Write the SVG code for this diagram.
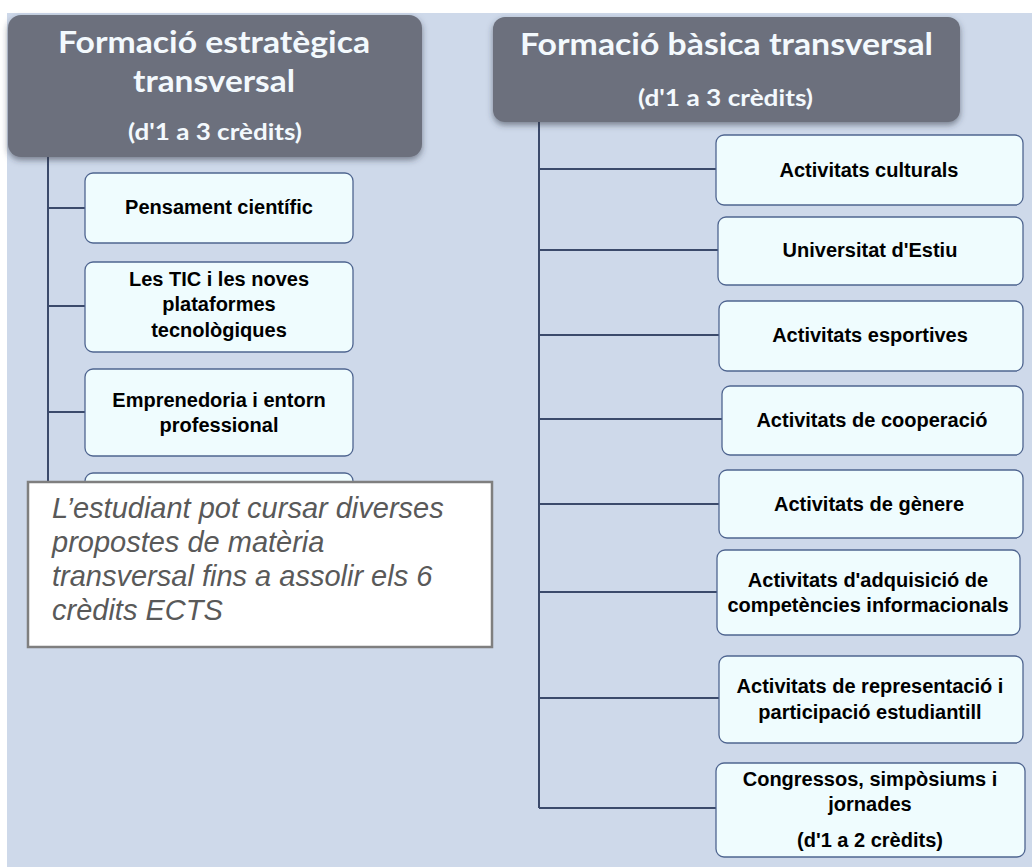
<svg xmlns="http://www.w3.org/2000/svg" width="1032" height="867" viewBox="0 0 1032 867">
<defs>
<filter id="sh" x="-10%" y="-10%" width="120%" height="130%">
<feDropShadow dx="0" dy="3" stdDeviation="3" flood-color="#2e3442" flood-opacity="0.55"/>
</filter>
<style>
.hdr{fill:#6c707d;filter:url(#sh)}
.ht{font-family:Lato,"Open Sans",sans-serif;font-weight:bold;fill:#f3f9fd;text-anchor:middle}
.box{fill:#effcfe;stroke:#4f6590;stroke-width:1.3}
.bt{font-family:"Liberation Sans",Arial,sans-serif;font-weight:bold;font-size:20px;fill:#000;text-anchor:middle}
.ln{stroke:#3b4a6b;stroke-width:2;fill:none}
.note{fill:#fff;stroke:#7f7f7f;stroke-width:2.5}
.nt{font-family:"Liberation Sans",Arial,sans-serif;font-style:italic;font-size:29px;fill:#595959}
</style>
</defs>
<rect x="7" y="13" width="1025" height="854" fill="#ced9ea"/>

<g id="connectors">
<path class="ln" d="M48 157 V482 M48 208 H85 M48 306 H85 M48 412 H85"/>
<path class="ln" d="M539 122 V808 M539 169 H716 M539 250 H718 M539 335 H719 M539 419 H722 M539 504 H719 M539 592 H717 M539 698 H719 M539 808 H716"/>
</g>

<g id="hdr-left">
<rect class="hdr" x="8" y="15" width="414" height="142" rx="13"/>
<text class="ht" x="214" y="53" font-size="30" textLength="312" lengthAdjust="spacingAndGlyphs">Formació estratègica</text>
<text class="ht" x="214" y="92" font-size="30" textLength="162" lengthAdjust="spacingAndGlyphs">transversal</text>
<text class="ht" x="215" y="140" font-size="22" textLength="174" lengthAdjust="spacingAndGlyphs">(d'1 a 3 crèdits)</text>
</g>

<g id="hdr-right">
<rect class="hdr" x="493" y="17" width="467" height="105" rx="12"/>
<text class="ht" x="726.5" y="55" font-size="30" textLength="413" lengthAdjust="spacingAndGlyphs">Formació bàsica transversal</text>
<text class="ht" x="725.5" y="106" font-size="22" textLength="175" lengthAdjust="spacingAndGlyphs">(d'1 a 3 crèdits)</text>
</g>

<g id="l1"><rect class="box" x="85" y="173" width="268" height="70" rx="8"/>
<text class="bt" x="219" y="214">Pensament científic</text></g>
<g id="l2"><rect class="box" x="85" y="262" width="268" height="90" rx="8"/>
<text class="bt" x="219" y="286">Les TIC i les noves</text>
<text class="bt" x="219" y="311">plataformes</text>
<text class="bt" x="219" y="337">tecnològiques</text></g>
<g id="l3"><rect class="box" x="85" y="369" width="268" height="87" rx="8"/>
<text class="bt" x="219" y="407">Emprenedoria i entorn</text>
<text class="bt" x="219" y="432">professional</text></g>
<g id="l4"><rect class="box" x="85" y="473" width="268" height="80" rx="8"/></g>

<g id="note">
<rect class="note" x="28" y="482" width="464" height="165"/>
<text class="nt" x="52" y="518">L’estudiant pot cursar diverses</text>
<text class="nt" x="52" y="552">propostes de matèria</text>
<text class="nt" x="52" y="586">transversal fins a assolir els 6</text>
<text class="nt" x="52" y="620">crèdits ECTS</text>
</g>

<g id="r1"><rect class="box" x="716" y="135" width="307" height="70" rx="8"/>
<text class="bt" x="869" y="177">Activitats culturals</text></g>
<g id="r2"><rect class="box" x="718" y="217" width="305" height="68" rx="8"/>
<text class="bt" x="870" y="257">Universitat d'Estiu</text></g>
<g id="r3"><rect class="box" x="719" y="301" width="304" height="70" rx="8"/>
<text class="bt" x="870" y="342">Activitats esportives</text></g>
<g id="r4"><rect class="box" x="722" y="386" width="301" height="69" rx="8"/>
<text class="bt" x="872" y="427">Activitats de cooperació</text></g>
<g id="r5"><rect class="box" x="719" y="470" width="304" height="68" rx="8"/>
<text class="bt" x="869" y="511">Activitats de gènere</text></g>
<g id="r6"><rect class="box" x="717" y="550" width="303" height="85" rx="8"/>
<text class="bt" x="868" y="587">Activitats d'adquisició de</text>
<text class="bt" x="868" y="612">competències informacionals</text></g>
<g id="r7"><rect class="box" x="719" y="656" width="304" height="87" rx="8"/>
<text class="bt" x="870" y="693">Activitats de representació i</text>
<text class="bt" x="870" y="719">participació estudiantill</text></g>
<g id="r8"><rect class="box" x="716" y="763" width="309" height="94" rx="8"/>
<text class="bt" x="870" y="786">Congressos, simpòsiums i</text>
<text class="bt" x="870" y="811">jornades</text>
<text class="bt" x="870" y="847">(d'1 a 2 crèdits)</text></g>
</svg>
